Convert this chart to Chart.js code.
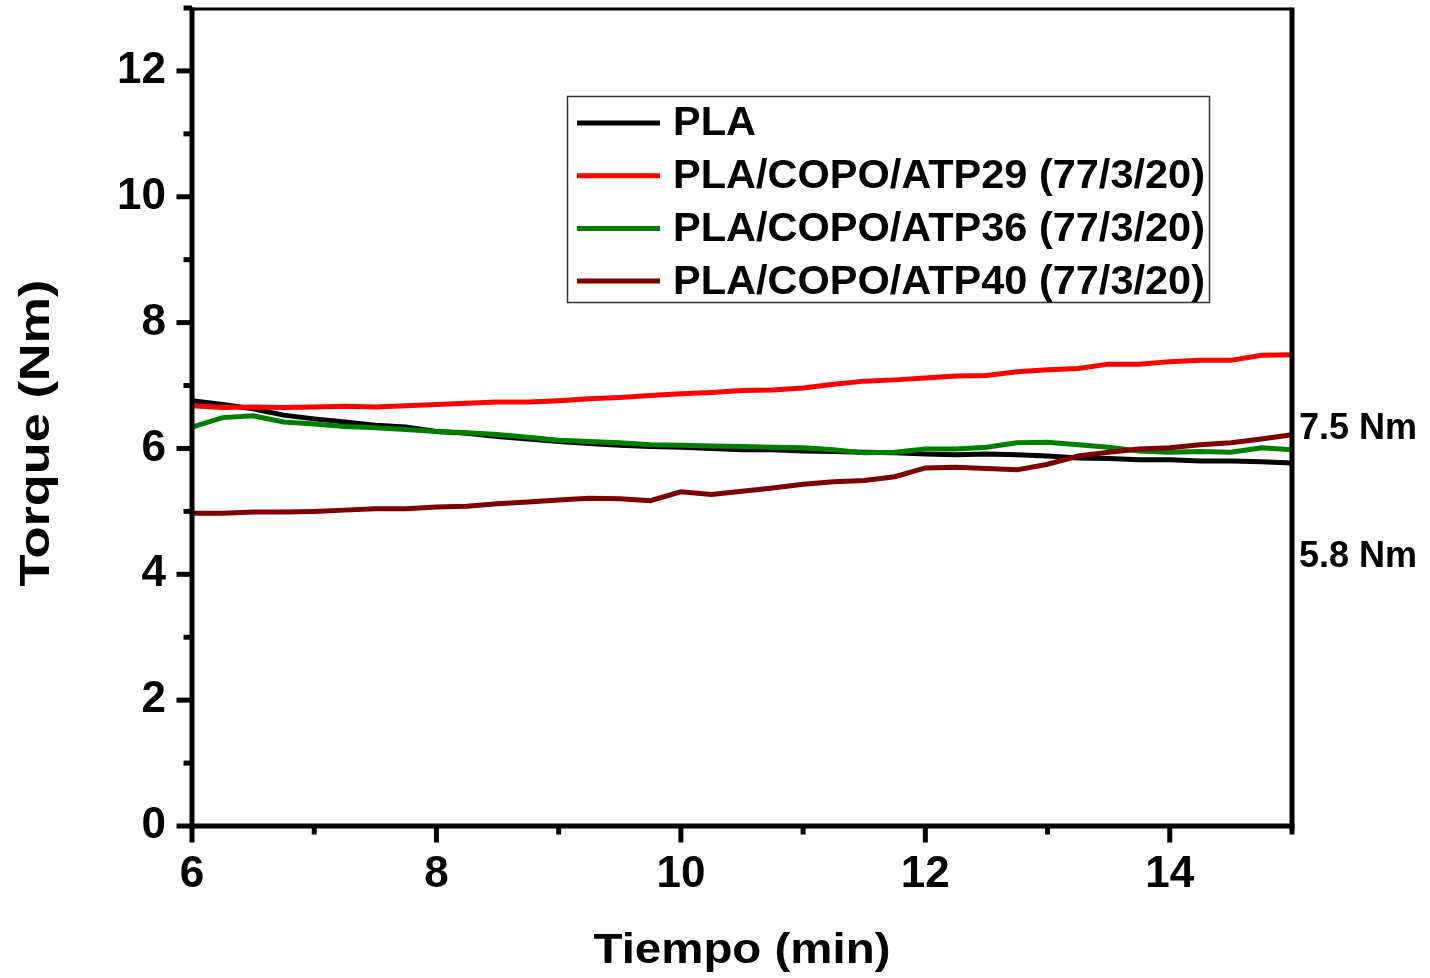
<!DOCTYPE html>
<html>
<head>
<meta charset="utf-8">
<script src="https://cdn.jsdelivr.net/npm/chart.js@4.4.0/dist/chart.umd.min.js"></script>
<style>
  html, body { margin: 0; padding: 0; background: #fff; }
  #wrap { width: 1430px; height: 978px; }
</style>
</head>
<body>
<div id="wrap"><canvas id="torqueChart"></canvas></div>
<script>
// tiempo (min)
const tiempo = [6.00, 6.25, 6.50, 6.75, 7.00, 7.25, 7.50, 7.75, 8.00, 8.25, 8.50, 8.75,
  9.00, 9.25, 9.50, 9.75, 10.00, 10.25, 10.50, 10.75, 11.00, 11.25, 11.50, 11.75,
  12.00, 12.25, 12.50, 12.75, 13.00, 13.25, 13.50, 13.75, 14.00, 14.25, 14.50, 14.75, 15.00];

// torque (Nm)
const pla = [6.76, 6.70, 6.63, 6.53, 6.47, 6.42, 6.37, 6.34, 6.27, 6.24, 6.19, 6.15,
  6.11, 6.08, 6.05, 6.03, 6.02, 6.00, 5.98, 5.98, 5.96, 5.95, 5.94, 5.93,
  5.91, 5.90, 5.91, 5.90, 5.88, 5.85, 5.84, 5.82, 5.82, 5.80, 5.80, 5.79, 5.77];
const atp29 = [6.68, 6.65, 6.66, 6.65, 6.66, 6.67, 6.66, 6.68, 6.70, 6.72, 6.74, 6.74,
  6.76, 6.79, 6.81, 6.84, 6.87, 6.89, 6.92, 6.93, 6.96, 7.02, 7.07, 7.09,
  7.12, 7.15, 7.16, 7.22, 7.25, 7.27, 7.34, 7.34, 7.38, 7.40, 7.40, 7.48, 7.49];
const atp36 = [6.34, 6.49, 6.52, 6.42, 6.39, 6.35, 6.33, 6.30, 6.27, 6.25, 6.22, 6.18,
  6.13, 6.11, 6.09, 6.06, 6.05, 6.04, 6.03, 6.02, 6.01, 5.98, 5.93, 5.94,
  5.99, 5.99, 6.02, 6.09, 6.10, 6.06, 6.02, 5.96, 5.94, 5.95, 5.94, 6.01, 5.98];
const atp40 = [4.97, 4.97, 4.99, 4.99, 5.00, 5.02, 5.04, 5.04, 5.07, 5.08, 5.12, 5.15,
  5.18, 5.21, 5.20, 5.17, 5.31, 5.27, 5.32, 5.37, 5.43, 5.47, 5.49, 5.55,
  5.69, 5.70, 5.68, 5.66, 5.75, 5.88, 5.94, 5.99, 6.01, 6.06, 6.09, 6.15, 6.22];

const nombres = ['PLA', 'PLA/COPO/ATP29 (77/3/20)', 'PLA/COPO/ATP36 (77/3/20)', 'PLA/COPO/ATP40 (77/3/20)'];
const colores = ['#000000', '#ff0000', '#008000', '#800000'];
const etiquetasFinal = ['7.5 Nm', '5.8 Nm'];

const FONT = "'Liberation Sans', Arial, sans-serif";

function puntos(serie) {
  return tiempo.map((t, i) => ({ x: t, y: serie[i] }));
}

function textoAncho(ctx, txt, x, y, sx) {
  ctx.save();
  ctx.translate(x, y);
  ctx.scale(sx, 1);
  ctx.fillText(txt, 0, 0);
  ctx.restore();
}

// axes frame, minor ticks, legend box, titles and end labels
const marco = {
  id: 'marco',
  afterDraw(chart) {
    const { ctx, chartArea: a, scales: { x, y } } = chart;
    const seg = (x1, y1, x2, y2) => { ctx.beginPath(); ctx.moveTo(x1, y1); ctx.lineTo(x2, y2); ctx.stroke(); };
    ctx.save();
    ctx.strokeStyle = '#000';
    ctx.lineWidth = 3;
    seg(a.left, a.top + 1, a.right, a.top + 1);
    ctx.lineWidth = 5;
    seg(a.left, a.top - 0.5, a.left, a.bottom + 2.5);
    seg(a.right, a.top - 0.5, a.right, a.bottom + 2.5);
    seg(a.left - 2.5, a.bottom, a.right + 2.5, a.bottom);

    for (let v = 0; v <= 13; v++) {
      const py = y.getPixelForValue(v);
      const len = v % 2 === 0 ? 13 : 6;
      seg(a.left - 2.5 - len, py, a.left, py);
    }
    for (let v = 6; v <= 15; v++) {
      const px = x.getPixelForValue(v);
      const len = v % 2 === 0 ? 14 : 6;
      seg(px, a.bottom, px, a.bottom + 2.5 + len);
    }

    // legend
    ctx.lineWidth = 1.5;
    ctx.strokeStyle = '#333';
    ctx.strokeRect(567.5, 96.5, 642, 206);
    ctx.font = 'bold 41.5px ' + FONT;
    ctx.textAlign = 'left';
    ctx.textBaseline = 'middle';
    ctx.fillStyle = '#000';
    nombres.forEach((n, i) => {
      const ry = 123 + i * 52.7;
      ctx.strokeStyle = colores[i];
      ctx.lineWidth = 5;
      seg(577, ry, 660, ry);
      ctx.fillText(n, 673, ry + 1);
    });

    // end labels
    ctx.font = 'bold 36px ' + FONT;
    ctx.textBaseline = 'alphabetic';
    ctx.fillText(etiquetasFinal[0], 1299, 439);
    ctx.fillText(etiquetasFinal[1], 1299, 567);

    // axis titles
    ctx.font = 'bold 43px ' + FONT;
    ctx.textAlign = 'center';
    const tx = 'Tiempo (min)';
    textoAncho(ctx, tx, (a.left + a.right) / 2, 963, 297 / ctx.measureText(tx).width);
    const ty = 'Torque (Nm)';
    ctx.save();
    ctx.translate(49, 433);
    ctx.rotate(-Math.PI / 2);
    textoAncho(ctx, ty, 0, 0, 307 / ctx.measureText(ty).width);
    ctx.restore();
    ctx.restore();
  }
};

const series = [pla, atp29, atp36, atp40];
const ctx = document.getElementById('torqueChart').getContext('2d');
new Chart(ctx, {
  type: 'line',
  data: {
    datasets: series.map((s, i) => ({
      label: nombres[i],
      data: puntos(s),
      borderColor: colores[i],
      backgroundColor: colores[i],
      borderWidth: 5,
      pointRadius: 0,
      tension: 0,
      order: 4 - i
    }))
  },
  options: {
    responsive: true,
    maintainAspectRatio: false,
    animation: false,
    devicePixelRatio: 1,
    layout: { padding: { top: 8, right: 138, left: 0, bottom: 0 } },
    plugins: { legend: { display: false }, tooltip: { enabled: false } },
    scales: {
      x: {
        type: 'linear',
        min: 6,
        max: 15,
        grid: { display: false, drawTicks: false },
        border: { display: false },
        ticks: {
          stepSize: 2,
          includeBounds: false,
          padding: 22,
          color: '#000',
          font: { family: FONT, size: 44, weight: 'bold' }
        },
        afterFit(s) { s.height = 152; s.paddingLeft = 0; s.paddingRight = 0; }
      },
      y: {
        min: 0,
        max: 13,
        grid: { display: false, drawTicks: false },
        border: { display: false },
        ticks: {
          stepSize: 2,
          includeBounds: false,
          padding: 26,
          color: '#000',
          font: { family: FONT, size: 44, weight: 'bold' }
        },
        afterFit(s) { s.width = 192; s.paddingTop = 0; s.paddingBottom = 0; }
      }
    }
  },
  plugins: [marco]
});
</script>
</body>
</html>
